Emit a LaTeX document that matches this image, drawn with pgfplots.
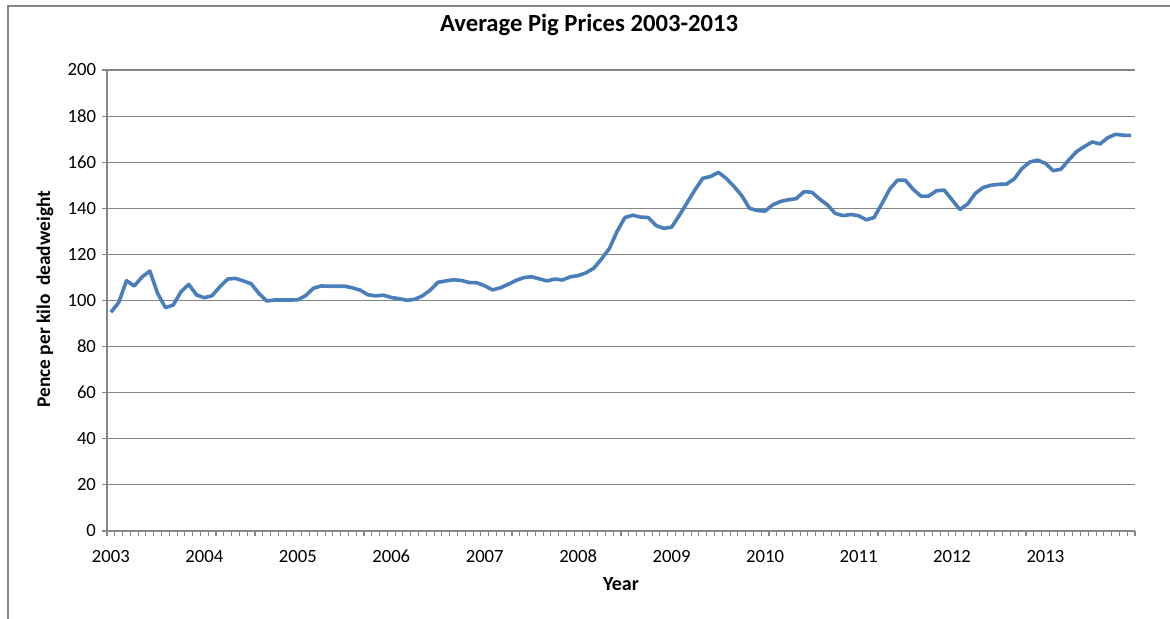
\documentclass[border=0pt]{standalone}
\usepackage{fontspec}
\setmainfont{Carlito}
\usepackage{pgfplots}
\pgfplotsset{compat=1.18}
\definecolor{pigline}{HTML}{4A7EBB}
\definecolor{axgray}{HTML}{868686}
\begin{document}
\begin{tikzpicture}[x=1pt,y=1pt]
\useasboundingbox (0,0) rectangle (877.5,463.5);
\draw[axgray, line width=1.3pt] (6,-10) -- (6,459) -- (890,459);
\begin{axis}[
  at={(80.25pt,65.25pt)}, anchor=south west,
  scale only axis, width=771pt, height=345.75pt,
  xmin=-0.5, xmax=131.5, ymin=0, ymax=200,
  axis x line=bottom, axis y line=left,
  axis line style={-, draw=axgray, line width=0.8pt},
  ytick={0,20,...,200},
  ymajorgrids, grid style={axgray, line width=0.8pt},
  xtick={0,12,...,120},
  xticklabels={2003,2004,2005,2006,2007,2008,2009,2010,2011,2012,2013},
  minor xtick={-0.5,0.5,...,131.5},
  major x tick style={draw=none},
  tick align=outside,
  major tick length=3.75pt, minor tick length=3.75pt,
  tick style={axgray, line width=0.8pt},
  ticklabel style={font=\fontsize{14}{16}\selectfont, text=black},
  xticklabel style={yshift=-6pt, text height=10pt, text depth=0pt, anchor=north},
  yticklabel style={xshift=-1pt},
  /pgf/number format/assume math mode=true,
  title={\textbf{Average Pig Prices 2003-2013}},
  title style={font=\fontsize{18.5}{20}\selectfont, at={(axis description cs:0.469,1.080)}, anchor=center, yshift=0pt},
  xlabel={\textbf{Year}},
  xlabel style={font=\fontsize{15}{17}\selectfont, at={(axis description cs:0.5,-0.115)}, anchor=center},
  ylabel={\textbf{Pence per kilo\ \ deadweight}},
  ylabel style={font=\fontsize{14.5}{16}\selectfont, at={(axis description cs:-0.0603,0.503)}, anchor=center, rotate=0},
]
\addplot[pigline, line width=2.7pt, line join=round, mark=none] coordinates {
(0,94.9) (1,99.1) (2,108.6) (3,106.3) (4,110.2) (5,112.8) (6,103.1) (7,96.9) (8,98.0) (9,103.8) (10,107.0) (11,102.4)
(12,101.2) (13,102.1) (14,106.0) (15,109.3) (16,109.6) (17,108.5) (18,107.3) (19,103.1) (20,99.8) (21,100.2) (22,100.2) (23,100.2)
(24,100.3) (25,102.1) (26,105.3) (27,106.3) (28,106.2) (29,106.2) (30,106.2) (31,105.5) (32,104.5) (33,102.5) (34,102.0) (35,102.3)
(36,101.3) (37,100.8) (38,100.1) (39,100.5) (40,102.0) (41,104.5) (42,107.9) (43,108.5) (44,109.0) (45,108.7) (46,107.8) (47,107.7)
(48,106.4) (49,104.6) (50,105.5) (51,107.0) (52,108.7) (53,109.9) (54,110.3) (55,109.4) (56,108.5) (57,109.3) (58,108.9) (59,110.3)
(60,110.8) (61,112.0) (62,114.0) (63,118.0) (64,122.5) (65,130.0) (66,136.0) (67,137.0) (68,136.2) (69,136.0) (70,132.5) (71,131.3)
(72,131.8) (73,137.0) (74,142.5) (75,148.0) (76,153.0) (77,153.8) (78,155.6) (79,153.0) (80,149.5) (81,145.5) (82,140.0) (83,139.0)
(84,138.8) (85,141.5) (86,143.0) (87,143.7) (88,144.2) (89,147.2) (90,147.0) (91,144.0) (92,141.5) (93,137.8) (94,136.8) (95,137.3)
(96,136.8) (97,135.0) (98,136.0) (99,142.0) (100,148.3) (101,152.2) (102,152.2) (103,148.3) (104,145.3) (105,145.3) (106,147.6) (107,147.9)
(108,143.7) (109,139.5) (110,141.8) (111,146.5) (112,149.0) (113,150.0) (114,150.4) (115,150.5) (116,152.8) (117,157.3) (118,160.1) (119,160.9)
(120,159.5) (121,156.3) (122,157.0) (123,161.0) (124,164.6) (125,166.8) (126,168.8) (127,167.9) (128,170.6) (129,172.1) (130,171.7) (131,171.6)
};
\end{axis}
\end{tikzpicture}
\end{document}
